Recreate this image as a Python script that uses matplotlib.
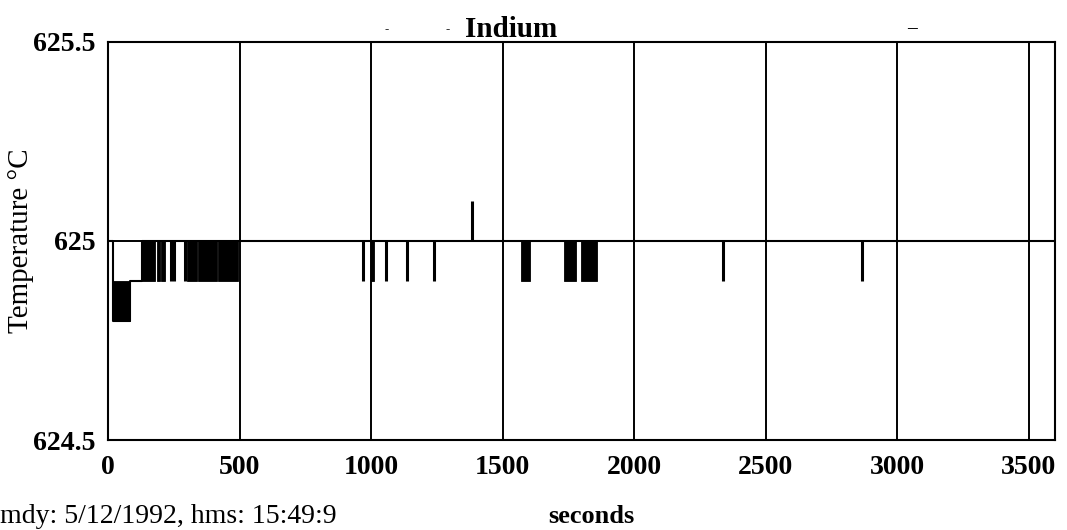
"""Indium fixed point: temperature trace over one hour."""

from __future__ import annotations

import matplotlib

matplotlib.use("Agg")

import matplotlib.pyplot as plt
import numpy as np

plt.rcParams["font.family"] = ["Liberation Serif", "DejaVu Serif"]
plt.rcParams["font.weight"] = "bold"

# main step trace (time in s, temperature in degC)
TRACE_T = [0, 20, 84, 130, 3600]
TRACE_V = [625.0, 624.8, 624.9, 625.0, 625.0]

# stretches where the reading flickered between two values
BAND_START = [20, 130, 186, 200, 300, 341, 420, 1000, 1570, 1735, 1800]
BAND_END = [84, 180, 196, 216, 337, 416, 494, 1011, 1604, 1780, 1860]
BAND_LOW = [624.8, 624.9, 624.9, 624.9, 624.9, 624.9, 624.9, 624.9, 624.9, 624.9, 624.9]
BAND_HIGH = [624.9, 625.0, 625.0, 625.0, 625.0, 625.0, 625.0, 625.0, 625.0, 625.0, 625.0]

# single off-level readings
SPIKE_T = [240, 250, 292, 969, 1058, 1138, 1241, 1384, 2339, 2867]
SPIKE_V = [624.9, 624.9, 624.9, 624.9, 624.9, 624.9, 624.9, 625.1, 624.9, 624.9]

X_TICKS = [0, 500, 1000, 1500, 2000, 2500, 3000, 3500]
Y_TICKS = [624.5, 625.0, 625.5]
Y_TICK_LABELS = ["624.5", "625", "625.5"]


def main() -> None:
    fig = plt.figure(figsize=(10.67, 5.30), dpi=100)
    ax = fig.add_axes([0.1012, 0.1698, 0.8875, 0.751])

    ax.step(TRACE_T, TRACE_V, where="post", color="black", lw=1.5, zorder=3)

    starts = np.array(BAND_START, dtype=float)
    widths = np.array(BAND_END, dtype=float) - starts
    lows = np.array(BAND_LOW)
    heights = np.array(BAND_HIGH) - lows
    ax.bar(starts, heights, width=widths, bottom=lows, align="edge",
           color="black", edgecolor="black", lw=0.6, zorder=3)

    ax.vlines(SPIKE_T, 625.0, SPIKE_V, color="black", lw=2.2, zorder=3)

    ax.set_xlim(0, 3600)
    ax.set_ylim(624.5, 625.5)
    ax.set_xticks(X_TICKS)
    ax.set_yticks(Y_TICKS)
    ax.set_yticklabels(Y_TICK_LABELS)
    ax.tick_params(length=0, labelsize=20)
    ax.tick_params(axis="x", pad=11)
    ax.tick_params(axis="y", pad=9)
    ax.grid(True, color="black", lw=1.4)
    for spine in ax.spines.values():
        spine.set_linewidth(1.5)

    ax.set_ylabel("Temperature °C", fontsize=21, fontweight="normal")
    ax.yaxis.set_label_coords(-0.078, 0.5)

    fig.text(591 / 1067, 1 - 523 / 530, "seconds", fontsize=19,
             ha="center", va="baseline")
    fig.text(0.0, 7 / 530, "mdy: 5/12/1992, hms: 15:49:9", fontsize=20,
             fontweight="normal", ha="left", va="baseline")

    fig.text(511 / 1067, 1 - 37 / 530, "Indium", fontsize=21,
             ha="center", va="baseline")
    fig.text(387 / 1067, 1 - 29 / 530, "-", fontsize=9, ha="center", va="center")
    fig.text(448 / 1067, 1 - 29 / 530, "-", fontsize=9, ha="center", va="center")
    fig.text(912 / 1067, 1 - 29 / 530, "–", fontsize=14, ha="center", va="center")

    fig.savefig("out.png", dpi=100)
    plt.close(fig)


if __name__ == "__main__":
    main()
